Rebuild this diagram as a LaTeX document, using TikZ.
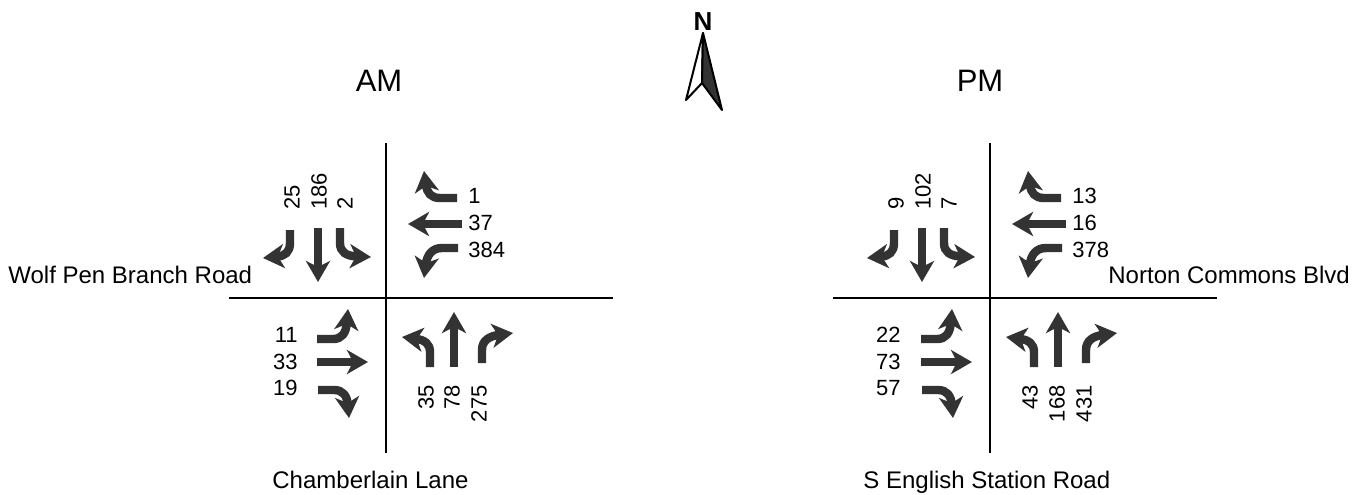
\documentclass[tikz,border=0pt]{standalone}
\usepackage{fontspec}
\setmainfont{Liberation Sans}
\usetikzlibrary{arrows.meta}
\definecolor{mvgray}{HTML}{333333}
\tikzset{
  mv/.style={draw=mvgray, line width=4.2pt, -{Stealth[length=10.5pt,width=12pt,inset=3pt]}},
  road/.style={line width=1.1pt, draw=black},
  vol/.style={font=\fontsize{11}{13}\selectfont, inner sep=0pt},
  volv/.style={vol, rotate=90},
  rname/.style={font=\fontsize{12}{14}\selectfont, inner sep=0pt},
  period/.style={font=\fontsize{15.5}{18}\selectfont, inner sep=0pt},
  movements/.pic={
    \draw[road] (386,143) -- (386,453);
    \draw[road] (229,298) -- (613,298);
    % NW (southbound)
    \draw[mv] (290,230) -- (290,243) .. controls (290,252) and (285,256) .. (263,258);
    \draw[mv] (318,228) -- (318,282);
    \draw[mv] (340,228) -- (340,243) .. controls (340,252) and (346,256) .. (371,257);
    % NE (westbound)
    \draw[mv] (457,198) -- (440,198) .. controls (431,198) and (427,193) .. (424,171);
    \draw[mv] (462,224) -- (408,224);
    \draw[mv] (458,248) -- (442,248) .. controls (432,248) and (427,255) .. (424,278);
    % SW (eastbound)
    \draw[mv] (317,339) -- (333,339) .. controls (342,339) and (346,333) .. (348,309);
    \draw[mv] (317,362) -- (368,362);
    \draw[mv] (318,390) -- (334,390) .. controls (343,390) and (347,396) .. (349,418);
    % SE (northbound)
    \draw[mv] (430,367) -- (430,352) .. controls (430,344) and (425,340) .. (402,337);
    \draw[mv] (454,367) -- (454,312);
    \draw[mv] (482,363) -- (482,350) .. controls (482,340) and (490,336) .. (513,333);
  }
}
\begin{document}
\begin{tikzpicture}[x=0.5pt, y=-0.5pt]
\useasboundingbox (0,0) rectangle (1364,494);

% north arrow
\node[font=\fontsize{13}{15}\selectfont\bfseries, inner sep=0pt] (north) at (703,22) {N};
\filldraw[fill=white, draw=black, line width=1pt, line join=round] (703,33) -- (686,100) -- (702,83) -- cycle;
\filldraw[fill=mvgray, draw=black, line width=1pt, line join=round] (703,33) -- (702,83) -- (722,110) -- cycle;

% titles
\node[period] (am) at (379,81) {AM};
\node[period] (pm) at (980,81) {PM};

% intersections
\pic at (0,0) {movements};
\pic at (604,0) {movements};

% road names
\node[rname, anchor=base west] (wolf) at (8,283) {Wolf Pen Branch Road};
\node[rname, anchor=base west] (cham) at (272,488) {Chamberlain Lane};
\node[rname, anchor=base west] (norton) at (1108,283) {Norton Commons Blvd};
\node[rname, anchor=base west] (seng) at (863,488) {S English Station Road};

% AM volumes
\node[volv, anchor=west] (aS1) at (292,210) {25};
\node[volv, anchor=west] (aS2) at (319,210) {186};
\node[volv, anchor=west] (aS3) at (345,210) {2};
\node[vol, anchor=west] (aW1) at (468,196) {1};
\node[vol, anchor=west] (aW2) at (468,223) {37};
\node[vol, anchor=west] (aW3) at (468,250) {384};
\node[vol, anchor=east] (aE1) at (298,335) {11};
\node[vol, anchor=east] (aE2) at (298,362) {33};
\node[vol, anchor=east] (aE3) at (298,388) {19};
\node[volv, anchor=east] (aN1) at (426,385) {35};
\node[volv, anchor=east] (aN2) at (452,385) {78};
\node[volv, anchor=east] (aN3) at (479,385) {275};

% PM volumes
\node[volv, anchor=west] (pS1) at (896,210) {9};
\node[volv, anchor=west] (pS2) at (923,210) {102};
\node[volv, anchor=west] (pS3) at (949,210) {7};
\node[vol, anchor=west] (pW1) at (1072,196) {13};
\node[vol, anchor=west] (pW2) at (1072,223) {16};
\node[vol, anchor=west] (pW3) at (1072,250) {378};
\node[vol, anchor=east] (pE1) at (901,335) {22};
\node[vol, anchor=east] (pE2) at (901,362) {73};
\node[vol, anchor=east] (pE3) at (901,388) {57};
\node[volv, anchor=east] (pN1) at (1030,385) {43};
\node[volv, anchor=east] (pN2) at (1057,385) {168};
\node[volv, anchor=east] (pN3) at (1084,385) {431};
\end{tikzpicture}
\end{document}
